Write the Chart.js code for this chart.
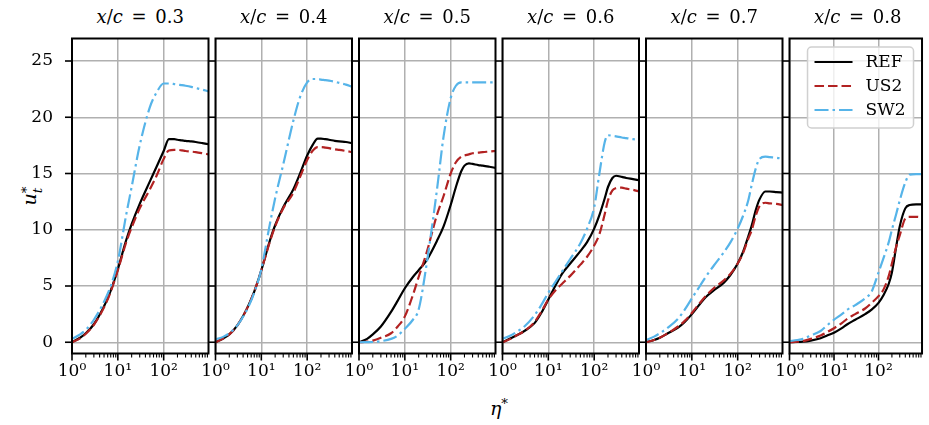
<!DOCTYPE html>
<html>
<head>
<meta charset="utf-8">
<script src="https://cdn.jsdelivr.net/npm/chart.js@4.4.1/dist/chart.umd.min.js"></script>
<style>
  body { margin: 0; background: #fff; }
  #wrap { position: relative; width: 929px; height: 425px; overflow: hidden; font-family: 'DejaVu Serif', serif; color: #000; }
  #wrap canvas { position: absolute; left: 0; top: 0; }
  .title { position: absolute; top: 7px; width: 137px; text-align: center; font-size: 18px; line-height: 20px; word-spacing: 3px; white-space: nowrap; }
  #ylab { position: absolute; left: 31px; top: 196px; font-size: 19px; line-height: 20px; transform: translate(-50%, -50%) rotate(-90deg); white-space: nowrap; }
  #ylab .ss { display: inline-block; vertical-align: -0.45em; line-height: 0.8em; font-size: 0.72em; text-align: left; }
  #xlab { position: absolute; left: 499px; top: 406px; font-size: 19px; line-height: 20px; transform: translate(-50%, -50%); white-space: nowrap; }
</style>
</head>
<body>
<div id="wrap">
  <div id="ylab"><i>u</i><span class="ss">*<br><i>t</i></span></div>
  <div id="xlab"><i>η</i><sup style="font-size:0.7em">*</sup></div>
</div>
<script>
// wall-normal coordinate (log axis), shared by every profile
const eta = [1, 1.5, 2, 3, 5, 7, 10, 15, 20, 30, 50, 70, 100, 130, 170, 200, 250, 300, 400, 500, 700, 950];

const stations = ['0.3', '0.4', '0.5', '0.6', '0.7', '0.8'];
const seriesNames = ['REF', 'US2', 'SW2'];

// u_t* profiles, one row per station
const refValues = [
  [0, 0.4, 0.8, 1.6, 3.2, 4.6, 6.5, 9.0, 10.5, 12.3, 14.3, 15.6, 17.0, 18.05, 18.05, 18.0, 17.95, 17.9, 17.85, 17.8, 17.7, 17.6],
  [0, 0.35, 0.7, 1.5, 3.1, 4.5, 6.4, 8.9, 10.4, 12.0, 13.6, 15.0, 16.6, 17.5, 18.1, 18.1, 18.05, 18.0, 17.9, 17.85, 17.8, 17.7],
  [0, 0.3, 0.7, 1.4, 2.7, 3.7, 4.8, 5.8, 6.4, 7.3, 9.0, 10.3, 12.2, 13.8, 15.2, 15.7, 15.9, 15.85, 15.75, 15.7, 15.6, 15.5],
  [0, 0.35, 0.6, 1.0, 1.7, 2.6, 3.8, 5.2, 6.1, 7.0, 8.1, 8.9, 10.1, 11.3, 12.8, 13.8, 14.6, 14.8, 14.7, 14.6, 14.5, 14.4],
  [0, 0.2, 0.4, 0.8, 1.3, 1.8, 2.5, 3.4, 4.0, 4.6, 5.3, 6.0, 7.0, 8.0, 9.4, 10.3, 11.8, 12.7, 13.4, 13.4, 13.35, 13.3],
  [0, 0.02, 0.05, 0.15, 0.35, 0.6, 0.85, 1.25, 1.6, 2.0, 2.5, 2.9, 3.5, 4.2, 5.2, 6.2, 8.5, 10.3, 11.9, 12.2, 12.25, 12.25]
];
const us2Values = [
  [0, 0.35, 0.75, 1.55, 3.1, 4.5, 6.4, 8.8, 10.2, 11.9, 13.6, 14.8, 16.3, 17.05, 17.1, 17.1, 17.05, 17.0, 16.95, 16.9, 16.8, 16.7],
  [0, 0.35, 0.7, 1.5, 3.1, 4.5, 6.4, 8.8, 10.3, 11.9, 13.3, 14.7, 16.2, 17.0, 17.35, 17.35, 17.3, 17.25, 17.15, 17.1, 17.0, 16.9],
  [0, 0.05, 0.15, 0.4, 0.8, 1.4, 2.3, 4.2, 5.8, 8.0, 11.3, 13.0, 15.0, 16.0, 16.5, 16.6, 16.7, 16.8, 16.85, 16.9, 16.95, 17.0],
  [0, 0.3, 0.6, 1.0, 1.8, 2.7, 3.8, 4.7, 5.2, 5.9, 6.9, 7.6, 8.6, 9.6, 11.4, 12.6, 13.5, 13.7, 13.75, 13.65, 13.55, 13.4],
  [0, 0.2, 0.4, 0.8, 1.4, 1.9, 2.6, 3.5, 4.1, 4.8, 5.5, 6.1, 7.0, 7.9, 9.2, 9.9, 11.3, 12.1, 12.4, 12.35, 12.3, 12.2],
  [0, 0.05, 0.1, 0.3, 0.6, 0.9, 1.25, 1.7, 2.1, 2.5, 3.0, 3.5, 4.1, 4.7, 5.9, 7.0, 8.5, 9.5, 11.0, 11.15, 11.15, 11.1]
];
const sw2Values = [
  [0.3, 0.7, 1.1, 2.0, 3.6, 5.0, 7.2, 11.2, 13.8, 17.5, 20.9, 22.2, 23.0, 23.0, 22.95, 22.9, 22.85, 22.8, 22.7, 22.6, 22.45, 22.3],
  [0.25, 0.5, 0.8, 1.5, 3.0, 4.4, 6.5, 10.3, 12.8, 15.8, 19.7, 21.8, 23.1, 23.4, 23.4, 23.35, 23.3, 23.25, 23.15, 23.05, 22.9, 22.7],
  [0, 0.01, 0.02, 0.1, 0.3, 0.6, 1.2, 2.0, 2.9, 7.0, 13.5, 18.3, 21.7, 22.8, 23.1, 23.1, 23.1, 23.1, 23.1, 23.1, 23.1, 23.1],
  [0.3, 0.6, 0.9, 1.4, 2.4, 3.3, 4.4, 5.5, 6.3, 7.4, 8.8, 10.1, 12.0, 15.0, 17.8, 18.4, 18.35, 18.3, 18.2, 18.15, 18.05, 18.0],
  [0.2, 0.5, 0.8, 1.3, 2.1, 2.9, 3.9, 5.0, 5.8, 6.8, 8.0, 8.9, 10.1, 11.2, 12.6, 13.9, 15.5, 16.3, 16.5, 16.45, 16.4, 16.3],
  [0.1, 0.2, 0.3, 0.6, 1.0, 1.5, 2.0, 2.5, 2.9, 3.3, 3.9, 4.5, 6.2, 7.5, 8.9, 10.0, 11.4, 12.6, 14.2, 14.9, 14.95, 14.95]
];

// axis ticks
const yTicks = [0, 5, 10, 15, 20, 25];
const xMajorTicks = [1, 10, 100];
const xTickLabels = ['10⁰', '10¹', '10²'];
const xMinorTicks = [2, 3, 4, 5, 6, 7, 8, 9, 20, 30, 40, 50, 60, 70, 80, 90, 200, 300, 400, 500, 600, 700, 800, 900];

// layout (px)
const W = 929, H = 425;
const LEFT0 = 72, PANEL_W = 136.5, STEP = 143.5, TOP = 38.5, BOTTOM = 353.5;

const styles = [
  { color: '#000000', dash: [] },
  { color: '#b22222', dash: [9.5, 4] },
  { color: '#56b4e9', dash: [14, 4, 2.5, 4] }
];
const LW = 2.2;
const FONT = { family: 'DejaVu Serif', size: 17 };

// spines + outward tick marks
const frameTicks = {
  id: 'frameTicks',
  afterDatasetsDraw(chart) {
    const { ctx, chartArea: a, scales: { x, y } } = chart;
    ctx.save();
    ctx.strokeStyle = '#000';
    x.ticks.forEach(t => {
      const px = x.getPixelForValue(t.value);
      ctx.lineWidth = t.major ? 1.6 : 1.1;
      ctx.beginPath();
      ctx.moveTo(px, a.bottom);
      ctx.lineTo(px, a.bottom + (t.major ? 7 : 4));
      ctx.stroke();
    });
    ctx.lineWidth = 1.6;
    y.ticks.forEach(t => {
      const py = y.getPixelForValue(t.value);
      ctx.beginPath();
      ctx.moveTo(a.left - 7, py);
      ctx.lineTo(a.left, py);
      ctx.stroke();
    });
    ctx.lineWidth = 2;
    ctx.strokeRect(a.left, a.top, a.right - a.left, a.bottom - a.top);
    ctx.restore();
  }
};

// legend box in the last panel (upper right)
const cornerLegend = {
  id: 'cornerLegend',
  afterDatasetsDraw(chart) {
    const { ctx, chartArea: a } = chart;
    const bw = 106, bh = 81;
    const bx = a.right - 8.5 - bw, by = a.top + 8.5;
    ctx.save();
    ctx.beginPath();
    ctx.roundRect(bx, by, bw, bh, 4);
    ctx.fillStyle = 'rgba(255,255,255,0.8)';
    ctx.fill();
    ctx.strokeStyle = '#d0d0d0';
    ctx.lineWidth = 1.5;
    ctx.stroke();
    ctx.font = '17px "DejaVu Serif"';
    ctx.textBaseline = 'middle';
    chart.data.datasets.forEach((ds, k) => {
      const ly = by + 15 + k * 24;
      ctx.strokeStyle = ds.borderColor;
      ctx.lineWidth = LW;
      ctx.setLineDash(ds.borderDash);
      ctx.beginPath();
      ctx.moveTo(bx + 7, ly);
      ctx.lineTo(bx + 45, ly);
      ctx.stroke();
      ctx.setLineDash([]);
      ctx.fillStyle = '#000';
      ctx.fillText(ds.label, bx + 58, ly + 1);
    });
    ctx.restore();
  }
};

const wrap = document.getElementById('wrap');

stations.forEach((st, i) => {
  const left = LEFT0 + i * STEP;
  const right = left + PANEL_W;
  const first = i === 0;

  const title = document.createElement('div');
  title.className = 'title';
  title.style.left = (left + PANEL_W / 2 - 68.5) + 'px';
  title.innerHTML = '<i>x</i>/<i>c</i> = ' + st;
  wrap.appendChild(title);

  const canvas = document.createElement('canvas');
  canvas.width = W;
  canvas.height = H;
  wrap.appendChild(canvas);

  const rows = [refValues[i], us2Values[i], sw2Values[i]];
  const order = [2, 1, 0];
  const datasets = rows.map((vals, k) => ({
    label: seriesNames[k],
    data: eta.map((e, j) => ({ x: e, y: vals[j] })),
    borderColor: styles[k].color,
    borderDash: styles[k].dash,
    borderWidth: LW,
    pointRadius: 0,
    fill: false,
    cubicInterpolationMode: 'monotone',
    clip: 0,
    order: order[k]
  }));

  new Chart(canvas, {
    type: 'line',
    data: { datasets: datasets },
    options: {
      responsive: false,
      animation: false,
      events: [],
      layout: {
        padding: { left: first ? 0 : left, right: W - right, top: TOP, bottom: 0 }
      },
      scales: {
        x: {
          type: 'logarithmic',
          min: 1,
          max: 950,
          afterBuildTicks: s => {
            s.ticks = xMajorTicks.map(v => ({ value: v, major: true }))
              .concat(xMinorTicks.map(v => ({ value: v, major: false })))
              .sort((p, q) => p.value - q.value);
          },
          afterFit: s => { s.height = H - BOTTOM; },
          ticks: {
            autoSkip: false,
            maxRotation: 0,
            padding: 8,
            color: '#000',
            font: FONT,
            callback: v => {
              const m = xMajorTicks.indexOf(v);
              return m >= 0 ? xTickLabels[m] : '';
            }
          },
          grid: {
            drawTicks: false,
            lineWidth: 1.5,
            color: c => (c.tick && c.tick.major ? '#b0b0b0' : 'rgba(0,0,0,0)')
          },
          border: { display: false }
        },
        y: {
          min: -1,
          max: 27,
          afterBuildTicks: s => { s.ticks = yTicks.map(v => ({ value: v })); },
          afterFit: s => { s.width = first ? LEFT0 : 0; },
          ticks: {
            display: first,
            padding: 19,
            color: '#000',
            font: FONT
          },
          grid: { drawTicks: false, lineWidth: 1.5, color: '#b0b0b0' },
          border: { display: false }
        }
      },
      plugins: {
        legend: { display: false },
        tooltip: { enabled: false }
      }
    },
    plugins: i === stations.length - 1 ? [frameTicks, cornerLegend] : [frameTicks]
  });
});
</script>
</body>
</html>
